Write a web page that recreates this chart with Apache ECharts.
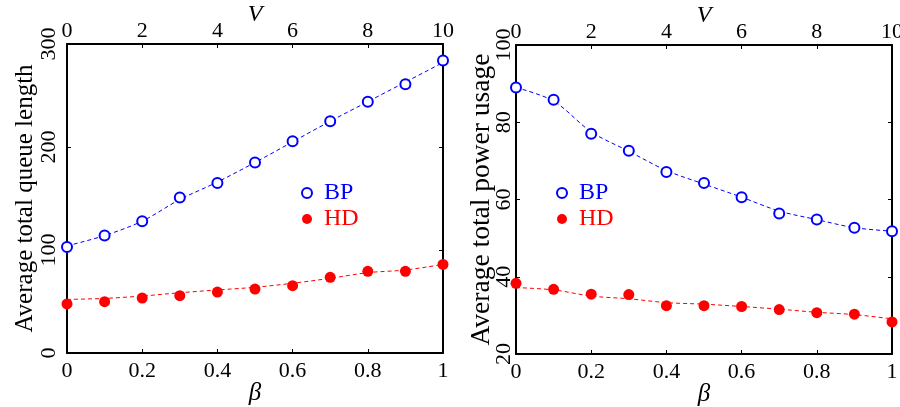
<!DOCTYPE html>
<html>
<head>
<meta charset="utf-8">
<script src="https://cdn.jsdelivr.net/npm/echarts@6/dist/echarts.min.js"></script>
<style>html,body{margin:0;padding:0;background:#fff}#c{width:900px;height:407px}</style>
</head>
<body>
<div id="c"></div>
<script>
// ---- data ----
const beta = [0, 0.1, 0.2, 0.3, 0.4, 0.5, 0.6, 0.7, 0.8, 0.9, 1.0];
const vTicks = [0, 2, 4, 6, 8, 10];
// left panel: average total queue length
const queueBP = [103, 114, 128, 151, 165, 185, 205.5, 225, 244, 261, 284];
const queueHD = [47.6, 49.8, 53.4, 55.7, 59.2, 62.1, 65.4, 73.5, 79.3, 79.3, 86];
const queueBPfit = [104, 114, 128, 149, 166, 185, 205, 225, 244, 263, 282];
const queueHDfit = [52, 53, 55.3, 58.5, 61.2, 63.8, 67.7, 72.5, 78, 80.6, 86];
// right panel: average total power usage
const powerBP = [89.0, 85.8, 77.0, 72.6, 67.1, 64.3, 60.6, 56.4, 54.8, 52.7, 51.8];
const powerHD = [38.3, 36.75, 35.5, 35.4, 32.5, 32.5, 32.3, 31.5, 30.7, 30.3, 28.3];
const powerBPfit = [89.0, 85.5, 77.5, 72.5, 67.5, 64.0, 60.6, 57.0, 54.8, 52.7, 51.8];
const powerHDfit = [37.2, 36.6, 35.0, 34.3, 33.3, 32.9, 32.3, 31.6, 30.8, 30.2, 29.1];

const F = "'Liberation Serif', 'Times New Roman', Times, serif";
const BLUE = '#0000ff', RED = '#ff0000';
const pairs = (ys) => beta.map((b, i) => [b, ys[i]]);

function axisBase() {
  return {
    type: 'value',
    nameMoveOverlap: false,
    axisLine: { show: true, onZero: false, lineStyle: { color: '#000', width: 2 } },
    axisTick: { show: true, inside: true, length: 4, lineStyle: { color: '#000', width: 1 } },
    splitLine: { show: false },
    axisLabel: { color: '#000', fontFamily: F, fontSize: 22 },
    nameTextStyle: { color: '#000', fontFamily: F }
  };
}

const grids = [
  { left: 67, right: 457, top: 44, bottom: 54, containLabel: false, outerBoundsMode: 'none' },
  { left: 516, right: 8, top: 45, bottom: 53, containLabel: false, outerBoundsMode: 'none' }
];

const xAxes = [], yAxes = [];
const yCfg = [
  { min: 0, max: 300, interval: 100, name: 'Average total queue length', size: 25, gap: 29, margin: 7 },
  { min: 20, max: 100, interval: 20, name: 'Average total power usage', size: 27.5, gap: 20, margin: 1 }
];
for (let g = 0; g < 2; g++) {
  xAxes.push(Object.assign(axisBase(), {
    gridIndex: g, position: 'bottom', min: 0, max: 1, interval: 0.2,
    name: 'β', nameLocation: 'middle', nameGap: 28,
    nameTextStyle: { color: '#000', fontFamily: F, fontSize: 25, fontStyle: 'italic' },
    axisLabel: { color: '#000', fontFamily: F, fontSize: 22, margin: 7 }
  }));
  xAxes.push(Object.assign(axisBase(), {
    gridIndex: g, position: 'top', min: 0, max: 10, interval: 2,
    name: 'V', nameLocation: 'middle', nameGap: 17,
    nameTextStyle: { color: '#000', fontFamily: F, fontSize: 24, fontStyle: 'italic' },
    axisLabel: { color: '#000', fontFamily: F, fontSize: 22, margin: 2 }
  }));
  yAxes.push(Object.assign(axisBase(), {
    gridIndex: g, position: 'left', min: yCfg[g].min, max: yCfg[g].max, interval: yCfg[g].interval,
    name: yCfg[g].name, nameLocation: 'middle', nameGap: yCfg[g].gap,
    nameTextStyle: { color: '#000', fontFamily: F, fontSize: yCfg[g].size },
    axisLabel: { color: '#000', fontFamily: F, fontSize: 22, rotate: 90, margin: yCfg[g].margin }
  }));
  yAxes.push(Object.assign(axisBase(), {
    gridIndex: g, position: 'right', min: yCfg[g].min, max: yCfg[g].max, interval: yCfg[g].interval,
    axisLabel: { show: false }
  }));
}

function fitLine(data, color, xi, yi) {
  return {
    type: 'line', name: 'fit', data: pairs(data), xAxisIndex: xi, yAxisIndex: yi,
    symbol: 'none', smooth: 0.3, z: 2, silent: true,
    lineStyle: { color: color, width: 1, type: [4, 3] }
  };
}
function marks(name, data, xi, yi) {
  const bp = name === 'BP';
  return {
    type: 'scatter', name: name, data: pairs(data), xAxisIndex: xi, yAxisIndex: yi,
    symbol: bp ? 'emptyCircle' : 'circle', symbolSize: bp ? 10 : 11, z: 3,
    itemStyle: bp ? { color: BLUE, borderColor: BLUE, borderWidth: 0.9, opacity: 1 } : { color: RED, opacity: 1 }
  };
}

const series = [
  fitLine(queueBPfit, BLUE, 0, 0), fitLine(queueHDfit, RED, 0, 0),
  marks('BP', queueBP, 0, 0), marks('HD', queueHD, 0, 0),
  fitLine(powerBPfit, BLUE, 2, 2), fitLine(powerHDfit, RED, 2, 2),
  marks('BP', powerBP, 2, 2), marks('HD', powerHD, 2, 2)
];

function legend(left) {
  return {
    orient: 'vertical', left: left, top: 181, itemWidth: 24, itemHeight: 10, itemGap: 2,
    selectedMode: false, padding: 0,
    itemStyle: { borderWidth: 1 },
    textStyle: { fontFamily: F, fontSize: 24, lineHeight: 24 },
    data: [
      { name: 'BP', textStyle: { color: BLUE } },
      { name: 'HD', textStyle: { color: RED } }
    ]
  };
}

const chart = echarts.init(document.getElementById('c'), null, { renderer: 'canvas' });
chart.setOption({
  animation: false,
  backgroundColor: '#fff',
  grid: grids,
  xAxis: xAxes,
  yAxis: yAxes,
  legend: [legend(301), legend(556)],
  series: series
});
</script>
</body>
</html>
